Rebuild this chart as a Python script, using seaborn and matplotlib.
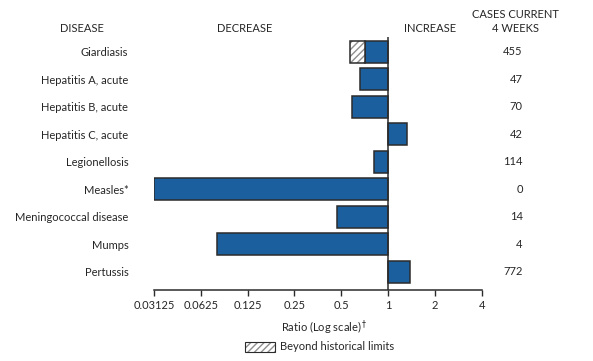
import numpy as np
import pandas as pd
import seaborn as sns
import matplotlib.pyplot as plt
from matplotlib.patches import Rectangle
from matplotlib.transforms import blended_transform_factory

# values
diseases = ["Giardiasis", "Hepatitis A, acute", "Hepatitis B, acute", "Hepatitis C, acute",
            "Legionellosis", "Measles*", "Meningococcal disease", "Mumps", "Pertussis"]
ratios = [0.57, 0.66, 0.59, 1.33, 0.81, 0.03125, 0.47, 0.079, 1.39]
# historical limit for the bars that go beyond it (None = within limits)
hist_limits = [0.71, None, None, None, None, None, None, None, None]
cases = [455, 47, 70, 42, 114, 0, 14, 4, 772]
tick_values = [0.03125, 0.0625, 0.125, 0.25, 0.5, 1, 2, 4]
tick_labels = ["0.03125", "0.0625", "0.125", "0.25", "0.5", "1", "2", "4"]

BLUE = "#1b5f9e"
EDGE = "#2b2b2b"
HATCH = "#8f8f8f"

sns.set_style("white")
plt.rcParams["font.family"] = ["Liberation Sans Narrow", "Lato", "DejaVu Sans"]
plt.rcParams["hatch.linewidth"] = 1.0

df = pd.DataFrame({"disease": diseases, "ratio": ratios})
# bars start at ratio 1, so plot log2 of the ratio
df["log_ratio"] = np.log2(df["ratio"])

W, H = 593, 361
fig = plt.figure(figsize=(W / 100, H / 100), dpi=100)
ax = fig.add_axes([154 / W, 1 - 290 / H, (481.7 - 154) / W, (290 - 37) / H])

# bars beyond historical limits: blue up to the limit, hatched for the rest
plot_vals = []
for r, lim in zip(df["log_ratio"], hist_limits):
    plot_vals.append(np.log2(lim) if lim is not None else r)
df["plot_val"] = plot_vals

sns.barplot(data=df, x="plot_val", y="disease", orient="h", color=BLUE,
            edgecolor=EDGE, linewidth=1.1, width=0.8, saturation=1, ax=ax)

for i, (r, lim) in enumerate(zip(df["log_ratio"], hist_limits)):
    if lim is None:
        continue
    left = np.log2(lim)
    ax.barh(i, r - left, left=left, height=0.8, color="white", hatch="/////",
            edgecolor=HATCH, linewidth=0)
    ax.barh(i, r - left, left=left, height=0.8, fill=False,
            edgecolor=EDGE, linewidth=1.1)

ax.axvline(0, color=EDGE, lw=1.1, zorder=5)
ax.set_xlim(np.log2(tick_values[0]), np.log2(tick_values[-1]))
ax.set_ylim(8.67, -0.53)
ax.set_xticks(np.log2(tick_values))
ax.set_xticklabels(tick_labels)
ax.set_xlabel("")
ax.set_ylabel("")
for s in ["top", "right", "left"]:
    ax.spines[s].set_visible(False)
ax.spines["bottom"].set_color(EDGE)
ax.spines["bottom"].set_linewidth(1.1)
ax.tick_params(axis="x", bottom=True, direction="out", length=4.5, width=1,
               color=EDGE, labelsize=8, pad=3)
ax.tick_params(axis="y", left=False, labelsize=8, pad=15)

# case counts column
trans = blended_transform_factory(fig.transFigure, ax.transData)
for i, c in enumerate(cases):
    ax.text(522.7 / W, i, str(c), transform=trans, ha="right", va="center", fontsize=8)

fig.text(82 / W, 1 - 29 / H, "DISEASE", ha="center", va="center", fontsize=8)
fig.text(245 / W, 1 - 29 / H, "DECREASE", ha="center", va="center", fontsize=8)
fig.text(430 / W, 1 - 29 / H, "INCREASE", ha="center", va="center", fontsize=8)
fig.text(515 / W, 1 - 15 / H, "CASES CURRENT", ha="center", va="center", fontsize=8)
fig.text(515 / W, 1 - 29 / H, "4 WEEKS", ha="center", va="center", fontsize=8)
fig.text(324 / W, 1 - 328 / H, "Ratio (Log scale)$^\\dagger$", ha="center", va="center", fontsize=8)

fig.patches.append(Rectangle((245 / W, 1 - 352 / H), 30 / W, 10 / H, transform=fig.transFigure,
                             facecolor="white", hatch="/////", edgecolor=HATCH, linewidth=0))
fig.patches.append(Rectangle((245 / W, 1 - 352 / H), 30 / W, 10 / H, transform=fig.transFigure,
                             fill=False, edgecolor=EDGE, linewidth=0.8))
fig.text(280 / W, 1 - 347 / H, "Beyond historical limits", ha="left", va="center", fontsize=8)

fig.savefig("out.png", dpi=100)
